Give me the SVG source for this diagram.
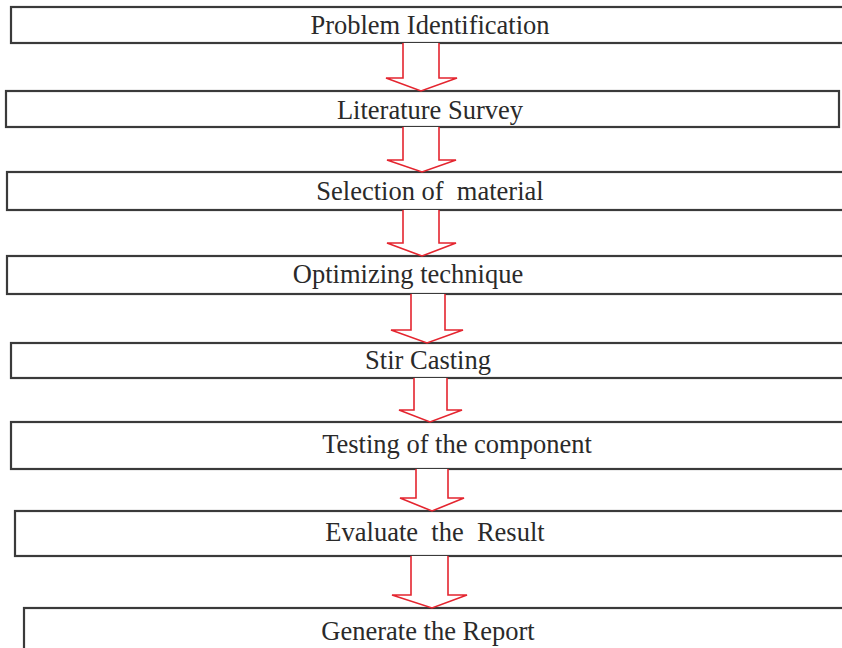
<svg xmlns="http://www.w3.org/2000/svg" width="842" height="648" viewBox="0 0 842 648">
<style>
.box{fill:#fff;stroke:#3a3a3a;stroke-width:2.2}
.lbl{font-family:"Liberation Serif","Times New Roman",serif;font-size:26.5px;fill:#2a2a2a;text-anchor:middle}
.arr{fill:#fff;stroke:#e4252f;stroke-width:1.6;stroke-linejoin:miter}
</style>
<rect width="842" height="648" fill="#fff"/>
<g id="n1"><rect class="box" x="11" y="7" width="840" height="36"/><text class="lbl" x="430" y="34">Problem Identification</text></g>
<g id="n2"><rect class="box" x="6" y="91" width="833" height="36"/><text class="lbl" x="430" y="119">Literature Survey</text></g>
<g id="n3"><rect class="box" x="7" y="172" width="840" height="38"/><text class="lbl" x="430" y="200" xml:space="preserve">Selection of  material</text></g>
<g id="n4"><rect class="box" x="7" y="256" width="840" height="38"/><text class="lbl" x="408" y="283">Optimizing technique</text></g>
<g id="n5"><rect class="box" x="11" y="343" width="840" height="35"/><text class="lbl" x="428" y="369">Stir Casting</text></g>
<g id="n6"><rect class="box" x="11" y="422" width="840" height="47"/><text class="lbl" x="457" y="453">Testing of the component</text></g>
<g id="n7"><rect class="box" x="15" y="511" width="840" height="45"/><text class="lbl" x="435" y="541" xml:space="preserve">Evaluate  the  Result</text></g>
<g id="n8"><rect class="box" x="24" y="608" width="830" height="50"/><text class="lbl" x="428" y="640">Generate the Report</text></g>
<g id="connectors">
<path class="arr" d="M403 43 V78 H386 L421 91 L457 78 H439 V43"/>
<path class="arr" d="M403 127 V160 H387 L422 172 L456 160 H439 V127"/>
<path class="arr" d="M403 210 V243 H387 L422 256 L456 243 H439 V210"/>
<path class="arr" d="M411 294 V330 H391 L427 343 L463 330 H445 V294"/>
<path class="arr" d="M414 378 V410 H399 L430 422 L462 410 H447 V378"/>
<path class="arr" d="M416 469 V498 H400 L432 511 L464 498 H448 V469"/>
<path class="arr" d="M411 556 V595 H392 L432 608 L467 595 H448 V556"/>
</g>
</svg>
